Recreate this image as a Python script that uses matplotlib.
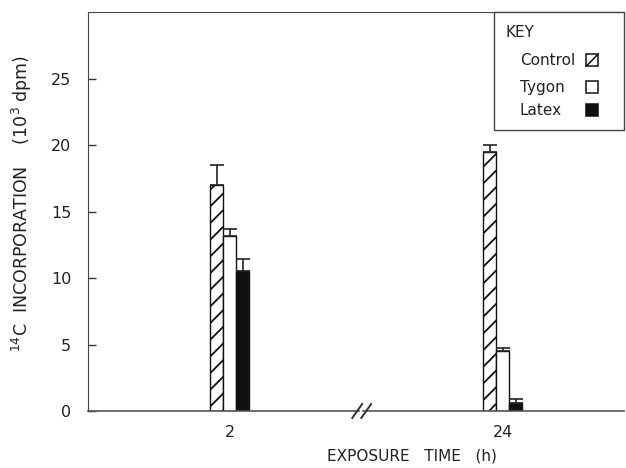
import matplotlib
matplotlib.use('agg')
import matplotlib.pyplot as plt
from matplotlib.patches import Rectangle
import numpy as np

# exposure time groups
times = ['2', '24']
# mean 14C incorporation (10^3 dpm) and upper error
control = [17.0, 19.5]
control_err = [1.5, 0.5]
tygon = [13.2, 4.5]
tygon_err = [0.5, 0.25]
latex = [10.5, 0.6]
latex_err = [0.9, 0.3]
key_labels = ['Control', 'Tygon', 'Latex']

plt.rcParams['font.family'] = ['DejaVu Sans']
plt.rcParams['hatch.linewidth'] = 1.3

fig = plt.figure(figsize=(6.26, 4.68), dpi=100)
ax = fig.add_axes([0.1406, 0.1218, 0.857, 0.8522])

pos = np.arange(len(times))
w = 0.0475
ekw = dict(ecolor='#222222', elinewidth=1.2, capsize=5, capthick=1.2)

ax.bar(pos - w, control, w, yerr=[np.zeros(2), control_err], color='white',
       edgecolor='#111111', hatch='//', linewidth=1.0, error_kw=ekw)
ax.bar(pos, tygon, w, yerr=[np.zeros(2), tygon_err], color='white',
       edgecolor='#111111', linewidth=1.0, error_kw=ekw)
ax.bar(pos + w, latex, w, yerr=[np.zeros(2), latex_err], color='#111111',
       edgecolor='#111111', linewidth=1.0, error_kw=ekw)

ax.set_xlim(-0.518, 1.445)
ax.set_ylim(0, 30)
ax.set_yticks([0, 5, 10, 15, 20, 25])
ax.set_xticks(pos)
ax.set_xticklabels(times)
ax.tick_params(axis='y', direction='in', length=6, width=1, labelsize=11.5,
               pad=12, color='#333333', labelcolor='#222222')
ax.tick_params(axis='x', length=0, labelsize=11.5, pad=10,
               labelcolor='#222222')

ax.spines['right'].set_visible(False)
ax.spines['bottom'].set_visible(False)
ax.spines['left'].set_color('#444444')
ax.spines['top'].set_color('#444444')

# broken x axis
xa = ax.get_xaxis_transform()
ax.plot([-0.518, 0.474], [0, 0], color='#555555', lw=1.2, transform=xa,
        clip_on=False)
ax.plot([0.49, 1.445], [0, 0], color='#555555', lw=1.2, transform=xa,
        clip_on=False)
for c in [0.467, 0.500]:
    ax.plot([c - 0.018, c + 0.018], [-0.0175, 0.0175],
            color='#333333', lw=1.4, transform=xa, clip_on=False)

ax.set_xlabel('EXPOSURE   TIME   (h)', fontsize=11, color='#222222')
ax.xaxis.set_label_coords(0.604, -0.095)
ax.set_ylabel(r'$^{14}$C  INCORPORATION    (10$^3$ dpm)',
              fontsize=12.5, color='#222222')
ax.yaxis.set_label_coords(-0.100, 0.52)

# key box
at = ax.transAxes
ax.add_patch(Rectangle((0.7565, 0.704), 0.2435, 0.296, transform=at,
                       facecolor='white', edgecolor='#444444', lw=1.0,
                       clip_on=False, zorder=5))
ax.text(0.779, 0.950, 'KEY', transform=at, fontsize=11, va='center',
        ha='left', color='#222222', zorder=6)
ys = [0.880, 0.812, 0.754]
fills = ['white', 'white', '#111111']
for lab, y, fc in zip(key_labels, ys, fills):
    ax.text(0.805, y, lab, transform=at, fontsize=11, va='center',
            ha='left', color='#222222', zorder=6)
    ax.add_patch(Rectangle((0.929, y - 0.015), 0.022, 0.03, transform=at,
                           facecolor=fc, edgecolor='#111111', lw=1.1,
                           clip_on=False, zorder=6))
ax.plot([0.929, 0.951], [ys[0] - 0.015, ys[0] + 0.015], transform=at,
        color='#111111', lw=1.1, zorder=7)

fig.savefig('out.png', dpi=100)
